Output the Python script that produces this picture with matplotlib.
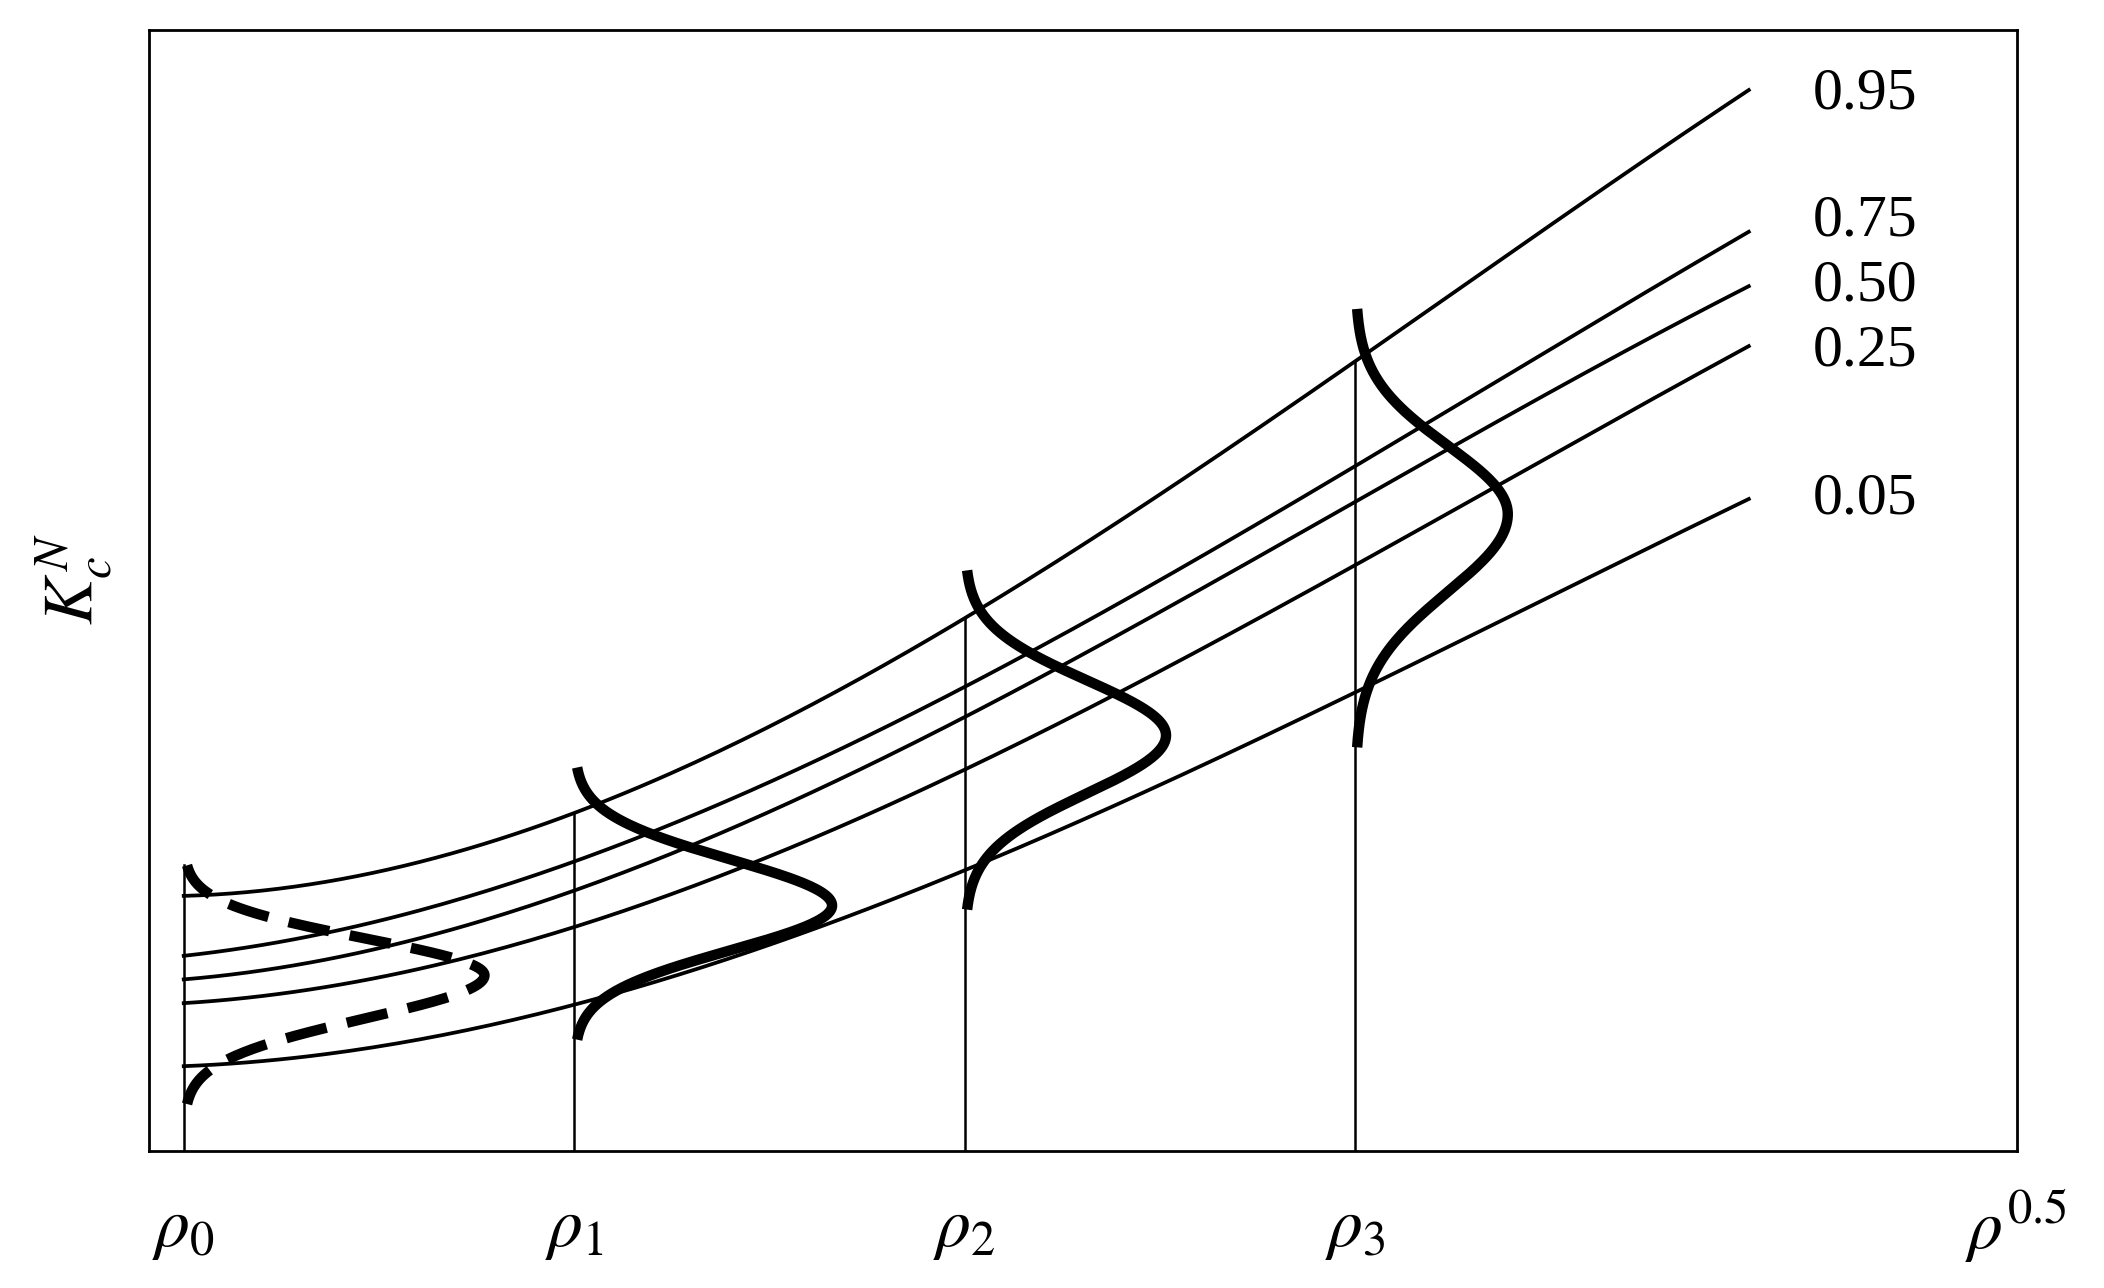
import numpy as np
import matplotlib
matplotlib.use("Agg")
import matplotlib.pyplot as plt

plt.rcParams['font.family'] = ['Liberation Serif', 'DejaVu Serif']
plt.rcParams['mathtext.fontset'] = 'stix'

# quantile curves, read at x = rho0..rho3 and end
xs = [0, 1, 2, 3, 4.007]
levels = ["0.95", "0.75", "0.50", "0.25", "0.05"]
q95 = [190, 253, 396, 590, 791]
q75 = [145, 218, 343, 513, 685]
q50 = [127, 198, 318, 488, 644]
q25 = [110, 168, 283, 438, 600]
q05 = [63, 110, 208, 343, 486]
label_y = [788, 693, 645, 596, 486]

# distributions at rho_i: (top, bottom, peak y, peak width)
dist_x = [0, 1, 2, 3]
dist_top = [213, 286, 433, 628]
dist_bot = [35, 83, 180, 301]
dist_peak = [131, 183, 310, 475]
dist_amp = [0.77, 0.66, 0.515, 0.39]

fig = plt.figure(figsize=(21.04, 12.88), dpi=100)
ax = fig.add_axes([0.0708, 0.1064, 0.8879, 0.8703])
ax.set_xlim(-0.089, 4.694)
ax.set_ylim(0, 836)
for s in ax.spines.values():
    s.set_linewidth(2)
ax.set_xticks([]); ax.set_yticks([])

xx = np.linspace(0, 4.007, 200)
for q, lab, ly in zip([q95, q75, q50, q25, q05], levels, label_y):
    c = np.polyfit(xs, q, 3)
    ax.plot(xx, np.polyval(c, xx), color='black', lw=2.7)
    ax.text(4.17, ly, lab, fontsize=43, va='center', ha='left')

c95 = np.polyfit(xs, q95, 3)
for i, (x0, top, bot, pk, amp) in enumerate(zip(dist_x, dist_top, dist_bot, dist_peak, dist_amp)):
    vtop = top if i == 0 else np.polyval(c95, x0)
    ax.plot([x0, x0], [0, vtop], color='black', lw=1.8)
    y = np.linspace(bot, top, 300)
    su = (top - pk) / 3.0
    sd = (pk - bot) / 3.0
    s = np.where(y > pk, su, sd)
    off = amp * np.exp(-0.5 * ((y - pk) / s) ** 2)
    ls = (0, (4, 2)) if i == 0 else '-'
    ax.plot(x0 + off, y, color='black', lw=7.5, ls=ls, solid_capstyle='butt')

for i, x0 in enumerate(dist_x):
    fig.text(0.0708 + (x0 + 0.089) / 4.783 * 0.8879, 0.045, r'$\rho_{%d}$' % i,
             fontsize=50, ha='center', va='center')
fig.text(0.958, 0.048, r'$\rho^{0.5}$', fontsize=50, ha='center', va='center')
fig.text(0.035, 0.55, r'$K_c^N$', fontsize=50, ha='center', va='center', rotation=90)

fig.savefig('out.png', dpi=100)
